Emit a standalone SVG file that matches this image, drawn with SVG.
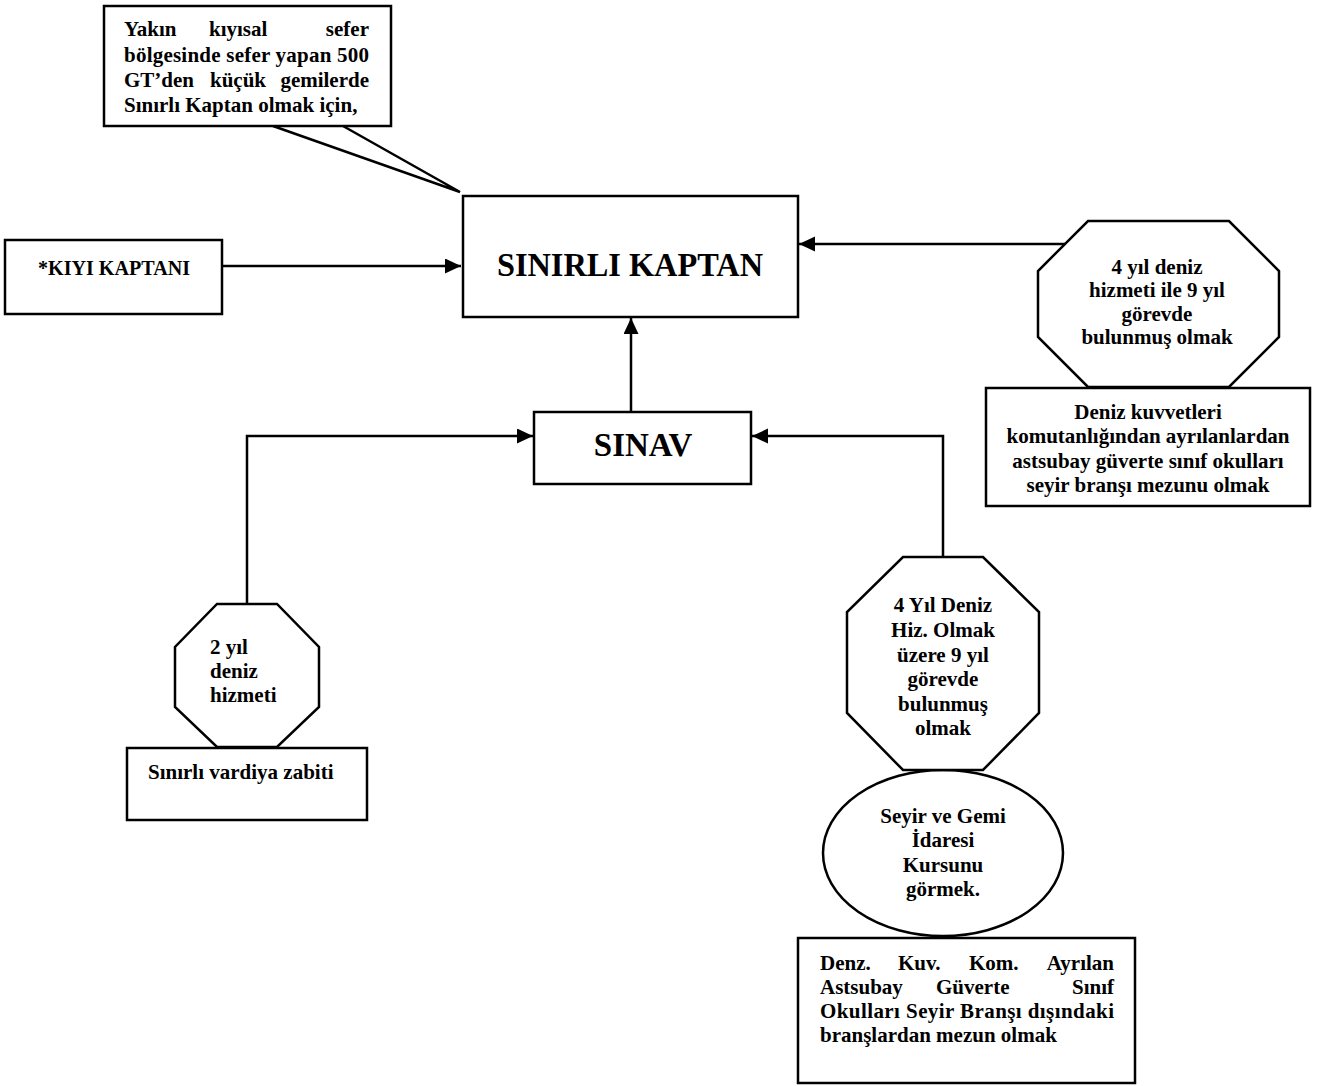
<svg xmlns="http://www.w3.org/2000/svg" width="1338" height="1086" viewBox="0 0 1338 1086">
<style>
.s{fill:#fff;stroke:#000;stroke-width:2.5}
.t{font-family:"Liberation Serif","Times New Roman",serif;font-weight:bold;font-size:21px;fill:#000}
.c{text-anchor:middle}
.e{text-anchor:end}
.big{font-size:33px}
.ln{stroke:#000;stroke-width:2.5;fill:none}
</style>
<defs>
<marker id="ah" markerUnits="userSpaceOnUse" markerWidth="17" markerHeight="16" refX="16" refY="7.5" orient="auto">
<path d="M0,0 L16,7.5 L0,15 z" fill="#000"/>
</marker>
</defs>
<rect width="1338" height="1086" fill="#fff"/>

<g id="connectors">
<path class="ln" d="M273,126 L460,192 L343,126"/>
<line class="ln" x1="222" y1="266" x2="461" y2="266" marker-end="url(#ah)"/>
<line class="ln" x1="1065" y1="244" x2="799" y2="244" marker-end="url(#ah)"/>
<line class="ln" x1="631" y1="412" x2="631" y2="318" marker-end="url(#ah)"/>
<polyline class="ln" points="247,604 247,436 533,436" marker-end="url(#ah)"/>
<polyline class="ln" points="943,557 943,436 752,436" marker-end="url(#ah)"/>
</g>

<g id="callout">
<rect class="s" x="104" y="6" width="287" height="120"/>
<text class="t" x="124" y="36">Yakın</text>
<text class="t" x="209" y="36">kıyısal</text>
<text class="t e" x="369" y="36">sefer</text>
<text class="t" x="124" y="62" textLength="245" lengthAdjust="spacing">bölgesinde sefer yapan 500</text>
<text class="t" x="124" y="87">GT’den</text>
<text class="t" x="210" y="87">küçük</text>
<text class="t e" x="369" y="87">gemilerde</text>
<text class="t" x="124" y="112">Sınırlı Kaptan olmak için,</text>
</g>

<g id="sinirli-kaptan">
<rect class="s" x="463" y="196" width="335" height="121"/>
<text class="t big c" x="630" y="276" textLength="266" lengthAdjust="spacingAndGlyphs">SINIRLI KAPTAN</text>
</g>

<g id="kiyi-kaptani">
<rect class="s" x="5" y="240" width="217" height="74"/>
<text class="t" x="38" y="275" textLength="152" lengthAdjust="spacingAndGlyphs">*KIYI KAPTANI</text>
</g>

<g id="sinav">
<rect class="s" x="534" y="412" width="217" height="72"/>
<text class="t big c" x="643" y="456">SINAV</text>
</g>

<g id="right-rect">
<rect class="s" x="986" y="388" width="324" height="118"/>
<text class="t c" x="1148" y="419">Deniz kuvvetleri</text>
<text class="t c" x="1148" y="443">komutanlığından ayrılanlardan</text>
<text class="t c" x="1148" y="468">astsubay güverte sınıf okulları</text>
<text class="t c" x="1148" y="492">seyir branşı mezunu olmak</text>
</g>

<g id="right-octagon">
<polygon class="s" points="1088,221 1229,221 1279,271 1279,337 1229,387 1088,387 1038,337 1038,271"/>
<text class="t c" x="1157" y="274">4 yıl deniz</text>
<text class="t c" x="1157" y="297">hizmeti ile 9 yıl</text>
<text class="t c" x="1157" y="321">görevde</text>
<text class="t c" x="1157" y="344">bulunmuş olmak</text>
</g>

<g id="vardiya-zabiti">
<rect class="s" x="127" y="748" width="240" height="72"/>
<text class="t" x="148" y="779">Sınırlı vardiya zabiti</text>
</g>

<g id="left-octagon">
<polygon class="s" points="217,604 277,604 319,647 319,707 277,747 217,747 175,707 175,647"/>
<text class="t" x="210" y="654">2 yıl</text>
<text class="t" x="210" y="678">deniz</text>
<text class="t" x="210" y="702">hizmeti</text>
</g>

<g id="bottom-rect">
<rect class="s" x="798" y="938" width="337" height="145"/>
<text class="t" x="820" y="970">Denz.</text>
<text class="t" x="898" y="970">Kuv.</text>
<text class="t" x="969" y="970">Kom.</text>
<text class="t e" x="1114" y="970">Ayrılan</text>
<text class="t" x="820" y="994">Astsubay</text>
<text class="t" x="936" y="994">Güverte</text>
<text class="t e" x="1114" y="994">Sınıf</text>
<text class="t" x="820" y="1018" textLength="294" lengthAdjust="spacing">Okulları Seyir Branşı dışındaki</text>
<text class="t" x="820" y="1042">branşlardan mezun olmak</text>
</g>

<g id="ellipse">
<ellipse class="s" cx="943" cy="853" rx="120" ry="83"/>
<text class="t c" x="943" y="823">Seyir ve Gemi</text>
<text class="t c" x="943" y="847">İdaresi</text>
<text class="t c" x="943" y="872">Kursunu</text>
<text class="t c" x="943" y="896">görmek.</text>
</g>

<g id="middle-octagon">
<polygon class="s" points="903,557 983,557 1039,612 1039,713 983,770 903,770 847,713 847,612"/>
<text class="t c" x="943" y="612">4 Yıl Deniz</text>
<text class="t c" x="943" y="637">Hiz. Olmak</text>
<text class="t c" x="943" y="662">üzere 9 yıl</text>
<text class="t c" x="943" y="686">görevde</text>
<text class="t c" x="943" y="711">bulunmuş</text>
<text class="t c" x="943" y="735">olmak</text>
</g>
</svg>
